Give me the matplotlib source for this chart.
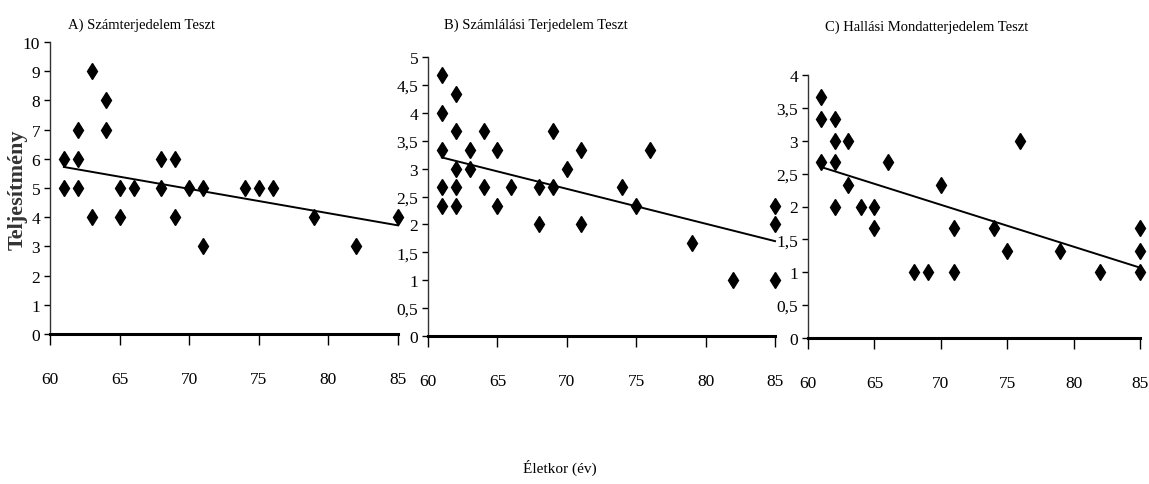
import numpy as np
import matplotlib
matplotlib.use("Agg")
import matplotlib.pyplot as plt
from matplotlib.ticker import FuncFormatter

W,H=1149,485

titles=["A) Számterjedelem Teszt","B) Számlálási Terjedelem Teszt","C) Hallási Mondatterjedelem Teszt"]
ylabel="Teljesítmény"
xlabel="Életkor (év)"
xticks=[60,65,70,75,80,85]

age_a=[61,61,62,62,62,63,63,64,64,65,65,66,68,68,69,69,70,71,71,74,75,76,79,82,85]
score_a=[6,5,7,6,5,9,4,8,7,5,4,5,6,5,6,4,5,5,3,5,5,5,4,3,4]

age_b=[61,61,61,61,61,62,62,62,62,62,63,63,64,64,65,65,66,68,68,69,69,70,71,71,74,75,76,79,82,85,85,85]
score_b=[4.67,4.0,3.33,2.67,2.33,4.33,3.67,3.0,2.67,2.33,3.33,3.0,3.67,2.67,3.33,2.33,2.67,2.67,2.0,3.67,2.67,3.0,3.33,2.0,2.67,2.33,3.33,1.67,1.0,2.33,2.0,1.0]

age_c=[61,61,61,62,62,62,62,63,63,64,65,65,66,68,69,70,71,71,74,75,76,79,82,85,85,85]
score_c=[3.67,3.33,2.67,3.33,3.0,2.67,2.0,3.0,2.33,2.0,2.0,1.67,2.67,1.0,1.0,2.33,1.67,1.0,1.67,1.33,3.0,1.33,1.0,1.67,1.33,1.0]

# trend line end points
trend_x=[61,85]
trend_a=[5.72,3.72]
trend_b=[3.2,1.7]
trend_c=[2.6,1.07]

ymax=[10,5,4]
ystep=[1,0.5,0.5]

# pixel boxes: left, right, top, bottom
boxes=[(50,398,43,335),(428,775,58,337),(808,1140,76,339)]
title_pos=[(141,25),(536,25),(927,27)]

plt.rcParams['font.family']=['Liberation Serif','DejaVu Serif']

def fmt(v,pos):
	if abs(v-round(v))<1e-9:
		return str(int(round(v)))
	return ("%g"%v).replace(".",",")

def main():
	fig=plt.figure(figsize=(W/100,H/100),dpi=100)
	data=[(age_a,score_a,trend_a),(age_b,score_b,trend_b),(age_c,score_c,trend_c)]
	for i,(ages,scores,trend) in enumerate(data):
		l,r,t,b=boxes[i]
		ax=fig.add_axes([l/W,1-b/H,(r-l)/W,(b-t)/H])
		ax.plot(ages,scores,linestyle="none",marker="d",markersize=8,color="black")
		ax.plot(trend_x,trend,color="black",linewidth=1.4)
		ax.set_xlim(60,85)
		ax.set_ylim(0,ymax[i])
		ax.set_xticks(xticks)
		ax.set_yticks(np.arange(0,ymax[i]+ystep[i]/2,ystep[i]))
		ax.yaxis.set_major_formatter(FuncFormatter(fmt))
		for s in ["top","right"]:
			ax.spines[s].set_visible(False)
		ax.spines["left"].set_linewidth(1.0)
		ax.spines["left"].set_color("#333333")
		ax.spines["bottom"].set_linewidth(2.2)
		ax.tick_params(axis="x",direction="out",length=8,width=1,pad=19,labelsize=12.5)
		ax.tick_params(axis="y",direction="out",length=4,width=1,pad=3,labelsize=12.5)
		ax.patch.set_visible(False)
		for c in ax.get_children():
			try:
				c.set_clip_on(False)
			except Exception:
				pass
		fig.text(title_pos[i][0]/W,1-title_pos[i][1]/H,titles[i],ha="center",va="center",fontsize=10.5)

	fig.text(18/W,1-190/H,ylabel,rotation=90,ha="center",va="center",fontsize=16,fontweight="bold",color="#333333")
	fig.text(560/W,1-468/H,xlabel,ha="center",va="center",fontsize=11)
	fig.savefig("out.png",dpi=100)

main()
